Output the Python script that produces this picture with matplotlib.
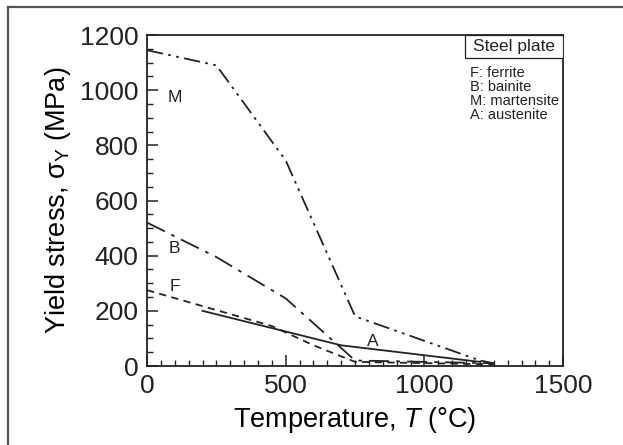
import matplotlib
matplotlib.use('Agg')
from matplotlib import pyplot as plt
from matplotlib.ticker import MultipleLocator
from matplotlib.lines import Line2D
from matplotlib.patches import Rectangle

plt.rcParams['font.family'] = ['Liberation Sans', 'DejaVu Sans']
plt.rcParams['mathtext.fontset'] = 'custom'
plt.rcParams['mathtext.rm'] = 'Liberation Sans'
plt.rcParams['mathtext.it'] = 'Liberation Sans:italic'

# yield stress (MPa) vs temperature (deg C)
m_temp = [0, 250, 500, 750, 1200, 1250]
m_stress = [1145, 1090, 745, 180, 20, 10]

b_temp = [0, 250, 500, 750, 1250]
b_stress = [520, 395, 245, 20, 10]

f_temp = [0, 450, 600, 750, 1250]
f_stress = [275, 145, 75, 15, 6]

a_temp = [200, 700, 1200]
a_stress = [200, 75, 15]

legend_lines = ['F: ferrite', 'B: bainite', 'M: martensite', 'A: austenite']

ink = '#222222'

fig = plt.figure(figsize=(6.23, 4.45), dpi=100)
ax = fig.add_axes([0.236, 0.1775, 0.668, 0.7438])

ax.plot(m_temp, m_stress, color=ink, lw=1.3, dashes=(9, 3, 1.5, 3, 1.5, 3))
ax.plot(b_temp, b_stress, color=ink, lw=1.3, dashes=(11, 4, 2, 4))
ax.plot(f_temp, f_stress, color=ink, lw=1.3, dashes=(4, 3))
ax.plot(a_temp, a_stress, color=ink, lw=1.3)

ax.text(100, 975, 'M', fontsize=12.5, ha='center', va='center', color=ink)
ax.text(100, 425, 'B', fontsize=12.5, ha='center', va='center', color=ink)
ax.text(100, 290, 'F', fontsize=12.5, ha='center', va='center', color=ink)
ax.text(815, 88, 'A', fontsize=12.5, ha='center', va='center', color=ink)

ax.set_xlim(0, 1500)
ax.set_ylim(0, 1200)
ax.xaxis.set_major_locator(MultipleLocator(500))
ax.xaxis.set_minor_locator(MultipleLocator(50))
ax.yaxis.set_major_locator(MultipleLocator(200))
ax.yaxis.set_minor_locator(MultipleLocator(50))
ax.tick_params(which='both', direction='in', top=False, right=False, colors=ink)
ax.tick_params(which='major', length=8, width=1.1, labelsize=19, pad=6)
ax.tick_params(which='minor', length=4, width=1.0)
for s in ax.spines.values():
    s.set_linewidth(1.3)
    s.set_color(ink)

ax.set_xlabel(r'Temperature, $T$ (°C)', fontsize=19.5, labelpad=5)
ax.set_ylabel(r'Yield stress, σ$_\mathrm{Y}$ (MPa)', fontsize=19.5, labelpad=5)

# "Steel plate" box tucked into the top right corner, key below it
ax.add_patch(Rectangle((0.764, 0.93), 0.236, 0.07, transform=ax.transAxes,
                       fc='white', ec=ink, lw=0.9, zorder=3))
ax.text(0.882, 0.965, 'Steel plate', transform=ax.transAxes, fontsize=12.5,
        ha='center', va='center', color=ink, zorder=4)
ax.text(0.776, 0.905, '\n'.join(legend_lines), transform=ax.transAxes,
        fontsize=10.5, ha='left', va='top', color=ink, linespacing=0.98)

# outer frame on the left and top of the image
fig.add_artist(Line2D([0.013, 0.013], [0, 0.984], color='#555555', lw=1.6))
fig.add_artist(Line2D([0.013, 1.0], [0.984, 0.984], color='#555555', lw=1.6))

fig.savefig('out.png', dpi=100)
